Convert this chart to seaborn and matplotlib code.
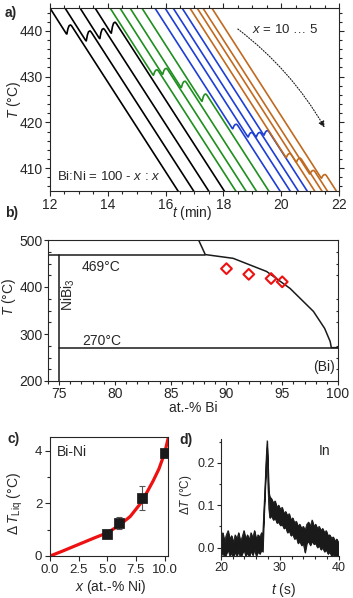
import numpy as np
import pandas as pd
import matplotlib
matplotlib.use("Agg")
import matplotlib.pyplot as plt
import seaborn as sns
from matplotlib.ticker import MultipleLocator

sns.set_theme(style="ticks")
plt.rcParams["font.family"] = ["Liberation Sans", "DejaVu Sans"]
plt.rcParams["mathtext.fontset"] = "custom"
plt.rcParams["mathtext.rm"] = "Liberation Sans"
plt.rcParams["mathtext.it"] = "Liberation Sans:italic"
plt.rcParams["mathtext.bf"] = "Liberation Sans:bold"
plt.rcParams["axes.linewidth"] = 0.8

# ---------------- data ----------------
# panel a: cooling curves (time where each curve enters at 445 C, recalescence dip T, bump height)
curve_start_t = [12.0, 12.52, 13.04, 13.56, 14.08, 14.42, 14.77, 15.18,
                 15.63, 15.98, 16.26, 16.57, 16.84, 17.09, 17.29, 17.60]
curve_dip_T = [439.3, 437.8, 438.3, 439.5, 430.3, 430.5, 427.6, 424.6,
               418.6, 416.8, 416.8, 417.2, 412.3, 411.3, 408.7, 407.8]
curve_bump = [2.0, 2.2, 2.2, 2.4, 1.2, 1.3, 1.4, 1.6,
              1.0, 1.0, 1.0, 1.0, 0.9, 0.9, 0.8, 0.8]
curve_group = ["x10"] * 4 + ["x8"] * 4 + ["x6"] * 4 + ["x5"] * 4
cooling_rate = 9.8  # C per min
group_colors = {"x10": "#000000", "x8": "#1f8f1f", "x6": "#1f3fd4", "x5": "#c06a20"}

# panel b: Bi-Ni phase diagram
liq_bi = [87.5, 88.1, 90.6, 93.6, 95.7, 97.8, 98.8, 99.3, 99.4, 100.0]
liq_T = [500, 469, 461, 433, 397, 348, 312, 284, 271, 271]
exp_bi = [90, 92, 94, 95]
exp_T = [439, 427, 418, 411]

# panel c: liquidus shift
dT_x = [5, 6, 8, 10]
dT_val = [0.84, 1.26, 2.2, 3.9]
dT_err = [0.1, 0.22, 0.44, 0.15]
fit_x = [0, 1, 2, 3, 4, 5, 6, 7, 8, 9, 9.5, 10, 10.3]
fit_y = [0, 0.17, 0.35, 0.53, 0.71, 0.88, 1.15, 1.5, 2.05, 2.85, 3.3, 3.9, 4.45]

# panel d: In signal (upper / lower envelope of the noisy trace)
d_t = [20.0, 20.3, 20.6, 20.9, 21.2, 21.5, 21.8, 22.1, 22.4, 22.7, 23.0, 23.3, 23.6, 23.9,
       24.2, 24.5, 24.8, 25.1, 25.4, 25.7, 26.0, 26.3, 26.6, 26.9, 27.1, 27.3, 27.5, 27.7,
       27.85, 28.0, 28.15, 28.3, 28.6, 28.9, 29.2, 29.5, 29.8, 30.1, 30.4, 30.7, 31.0, 31.3,
       31.6, 31.9, 32.2, 32.5, 32.8, 33.1, 33.4, 33.7, 34.0, 34.3, 34.6, 34.9, 35.2, 35.5,
       35.8, 36.1, 36.4, 36.7, 37.0, 37.3, 37.6, 37.9, 38.2, 38.5, 38.8, 39.1, 39.4, 39.7, 40.0]
d_hi = [0.02, 0.035, 0.015, 0.03, 0.04, 0.02, 0.028, 0.012, 0.03, 0.02, 0.035, 0.015, 0.025, 0.04,
        0.02, 0.03, 0.018, 0.035, 0.022, 0.04, 0.02, 0.03, 0.025, 0.035, 0.03, 0.09, 0.15, 0.215,
        0.252, 0.19, 0.13, 0.12, 0.115, 0.105, 0.11, 0.095, 0.1, 0.09, 0.095, 0.08, 0.085, 0.075,
        0.08, 0.065, 0.07, 0.058, 0.062, 0.05, 0.055, 0.045, 0.05, 0.04, 0.055, 0.06, 0.05, 0.065,
        0.05, 0.055, 0.045, 0.05, 0.04, 0.045, 0.035, 0.04, 0.028, 0.03, 0.022, 0.025, 0.015, 0.02, 0.012]
d_lo = [-0.02, -0.01, -0.025, -0.015, -0.005, -0.02, -0.012, -0.025, -0.01, -0.02, -0.008, -0.025, -0.015, -0.005,
        -0.02, -0.012, -0.022, -0.008, -0.018, -0.005, -0.02, -0.01, -0.015, -0.005, -0.01, 0.07, 0.135, 0.2,
        0.235, 0.14, 0.09, 0.07, 0.075, 0.065, 0.07, 0.058, 0.06, 0.052, 0.055, 0.045, 0.048, 0.035,
        0.04, 0.028, 0.032, 0.02, 0.025, 0.01, 0.015, 0.005, 0.01, -0.012, 0.01, 0.015, 0.005, 0.015,
        0.008, 0.01, 0.0, 0.005, -0.005, 0.0, -0.01, -0.005, -0.015, -0.01, -0.02, -0.015, -0.025, -0.018, -0.025]

# ---------------- figure ----------------
W, H = 353, 598
fig = plt.figure(figsize=(W / 100, H / 100), dpi=100)


def box(l, t, r, b):
    return [l / W, 1 - b / H, (r - l) / W, (b - t) / H]


axA = fig.add_axes(box(50, 8, 339, 191))
axB = fig.add_axes(box(48, 240, 338, 381))
axC = fig.add_axes(box(50, 437, 168, 556))
axD = fig.add_axes(box(221, 439, 338.5, 556))

FS = 10

# ---- panel a ----
rows = []
for i in range(len(curve_start_t)):
    t0, Tm, A = curve_start_t[i], curve_dip_T[i], curve_bump[i]
    t1 = t0 + (445 - Tm) / cooling_rate
    tp, Tp = t1 + 0.13, Tm + A
    pts = [(t0 - 0.1, 445 + 0.1 * cooling_rate), (t1 - 0.02, Tm + 0.1), (t1, Tm),
           (t1 + 0.04, Tm + 0.6 * A), (t1 + 0.08, Tm + 0.92 * A), (tp, Tp),
           (tp + 0.04, Tp - 0.25), (tp + 0.04 + (Tp - 0.25 - 403) / cooling_rate, 403)]
    for t, T in pts:
        rows.append({"curve": i, "t": t, "T": T, "group": curve_group[i]})
dfA = pd.DataFrame(rows)
for i, sub in dfA.groupby("curve"):
    sns.lineplot(data=sub, x="t", y="T", ax=axA, color=group_colors[sub["group"].iloc[0]],
                 lw=1.2, sort=False, estimator=None, legend=False)
axA.set_xlim(12, 22)
axA.set_ylim(405, 445)
axA.set_xticks([12, 14, 16, 18, 20, 22])
axA.set_yticks([410, 420, 430, 440])
axA.xaxis.set_minor_locator(MultipleLocator(0.5))
axA.yaxis.set_minor_locator(MultipleLocator(2))
axA.tick_params(which="both", direction="out", top=True, right=True, labelsize=FS, pad=1.5, width=0.8)
axA.tick_params(which="major", length=3.5)
axA.tick_params(which="minor", length=2)
axA.set_xlabel("")
axA.set_ylabel("")
axA.text(-0.125, 0.5, r"$\it{T}$ (°C)", transform=axA.transAxes, rotation=90,
         ha="center", va="center", fontsize=FS)
axA.text(0.491, -0.118, r"$\it{t}$ (min)", transform=axA.transAxes,
         ha="center", va="center", fontsize=FS)
axA.text(0.024, 0.077, r"Bi:Ni = 100 - $\it{x}$ : $\it{x}$", transform=axA.transAxes,
         ha="left", va="center", fontsize=9.5)
axA.text(20.13, 440.2, r"$\it{x}$ = 10 … 5", ha="center", va="center", fontsize=9.5)
axA.annotate("", xy=(21.5, 418.9), xytext=(18.5, 440.4),
             arrowprops=dict(arrowstyle="-|>", linestyle=(0, (1, 1.5)), lw=0.8, color="k",
                             connectionstyle="arc3,rad=-0.1", mutation_scale=9,
                             shrinkA=0, shrinkB=0))

# ---- panel b ----
sns.lineplot(x=liq_bi, y=liq_T, ax=axB, color="k", lw=1.1, sort=False, estimator=None)
sns.lineplot(x=[74, 88.1], y=[469, 469], ax=axB, color="k", lw=1.1, sort=False, estimator=None)
sns.lineplot(x=[75, 75], y=[200, 469], ax=axB, color="k", lw=1.1, sort=False, estimator=None)
sns.lineplot(x=[75, 100], y=[270, 270], ax=axB, color="k", lw=1.1, sort=False, estimator=None)
sns.scatterplot(x=exp_bi, y=exp_T, ax=axB, marker="D", s=30, facecolor="none",
                edgecolor="#ee1111", linewidth=1.5, zorder=5)
axB.set_xlim(74, 100)
axB.set_ylim(200, 500)
axB.set_xticks([75, 80, 85, 90, 95, 100])
axB.set_yticks([200, 300, 400, 500])
axB.xaxis.set_minor_locator(MultipleLocator(1))
axB.yaxis.set_minor_locator(MultipleLocator(25))
axB.tick_params(which="both", direction="out", labelsize=FS, pad=1, width=0.8)
axB.tick_params(which="major", length=3)
axB.tick_params(which="minor", length=1.8)
axB.tick_params(axis="y", which="minor", right=True, direction="in")
axB.text(-0.135, 0.6, r"$\it{T}$ (°C)", transform=axB.transAxes, rotation=90,
         ha="center", va="center", fontsize=FS)
axB.text(0.5, -0.19, "at.-% Bi", transform=axB.transAxes, ha="center", va="center", fontsize=FS)
axB.text(77.05, 443, "469°C", ha="left", va="center", fontsize=FS)
axB.text(77.05, 286, "270°C", ha="left", va="center", fontsize=FS)
axB.text(75.8, 383, r"NiBi$_3$", rotation=90, ha="center", va="center", fontsize=FS)
axB.text(99.7, 230, "(Bi)", ha="right", va="center", fontsize=FS)

# ---- panel c ----
sns.lineplot(x=fit_x, y=fit_y, ax=axC, color="#ee1111", lw=2.3, sort=False, estimator=None, zorder=2)
axC.errorbar(dT_x, dT_val, yerr=dT_err, fmt="none", ecolor="#555555", elinewidth=0.8,
             capsize=2.5, capthick=0.8, zorder=3)
sns.scatterplot(x=dT_x, y=dT_val, ax=axC, marker="s", s=45, color="k", edgecolor="k", zorder=4)
axC.set_xlim(0, 10.3)
axC.set_ylim(0, 4.52)
axC.set_xticks([0, 2.5, 5, 7.5, 10])
axC.set_xticklabels(["0.0", "2.5", "5.0", "7.5", "10.0"])
axC.set_yticks([0, 2, 4])
axC.yaxis.set_minor_locator(MultipleLocator(1))
axC.tick_params(which="both", direction="out", labelsize=9.5, pad=2, width=0.8)
axC.tick_params(which="major", length=3.5)
axC.tick_params(which="minor", length=2)
axC.text(-0.29, 0.437, r"$\Delta\,\it{T}_{\rm Liq}$ (°C)", transform=axC.transAxes, rotation=90,
         ha="center", va="center", fontsize=FS)
axC.text(0.51, -0.26, r"$\it{x}$ (at.-% Ni)", transform=axC.transAxes,
         ha="center", va="center", fontsize=FS)
axC.text(0.06, 0.87, "Bi-Ni", transform=axC.transAxes, ha="left", va="center", fontsize=FS)

# ---- panel d ----
axD.fill_between(d_t, d_lo, d_hi, color="k", lw=0.7, edgecolor="k")
sns.lineplot(x=d_t, y=d_hi, ax=axD, color="k", lw=0.6, sort=False, estimator=None)
sns.lineplot(x=d_t, y=d_lo, ax=axD, color="k", lw=0.6, sort=False, estimator=None)
axD.set_xlim(20, 40)
axD.set_ylim(-0.02, 0.256)
axD.set_xticks([20, 30, 40])
axD.set_yticks([0.0, 0.1, 0.2])
axD.set_yticklabels(["0.0", "0.1", "0.2"])
axD.xaxis.set_minor_locator(MultipleLocator(2))
axD.yaxis.set_minor_locator(MultipleLocator(0.05))
axD.spines["top"].set_visible(False)
axD.spines["right"].set_visible(False)
axD.tick_params(which="both", direction="out", labelsize=9, pad=1.5, width=0.8)
axD.tick_params(which="major", length=3)
axD.tick_params(which="minor", length=1.8)
axD.text(-0.30, 0.52, r"$\it{ΔT}$ (°C)", transform=axD.transAxes, rotation=90,
         ha="center", va="center", fontsize=8.5)
axD.text(0.53, -0.29, r"$\it{t}$ (s)", transform=axD.transAxes, ha="center", va="center", fontsize=FS)
axD.text(0.93, 0.9, "In", transform=axD.transAxes, ha="right", va="center", fontsize=FS)

for ax in (axA, axB, axC, axD):
    ax.set_xlabel("")
    ax.set_ylabel("")

# panel letters
for lab, (px, py) in {"a)": (5, 13), "b)": (5, 213), "c)": (8, 439), "d)": (179, 440)}.items():
    fig.text(px / W, 1 - py / H, lab, fontsize=FS, fontweight="bold", ha="left", va="center")

fig.savefig("out.png", dpi=100)
